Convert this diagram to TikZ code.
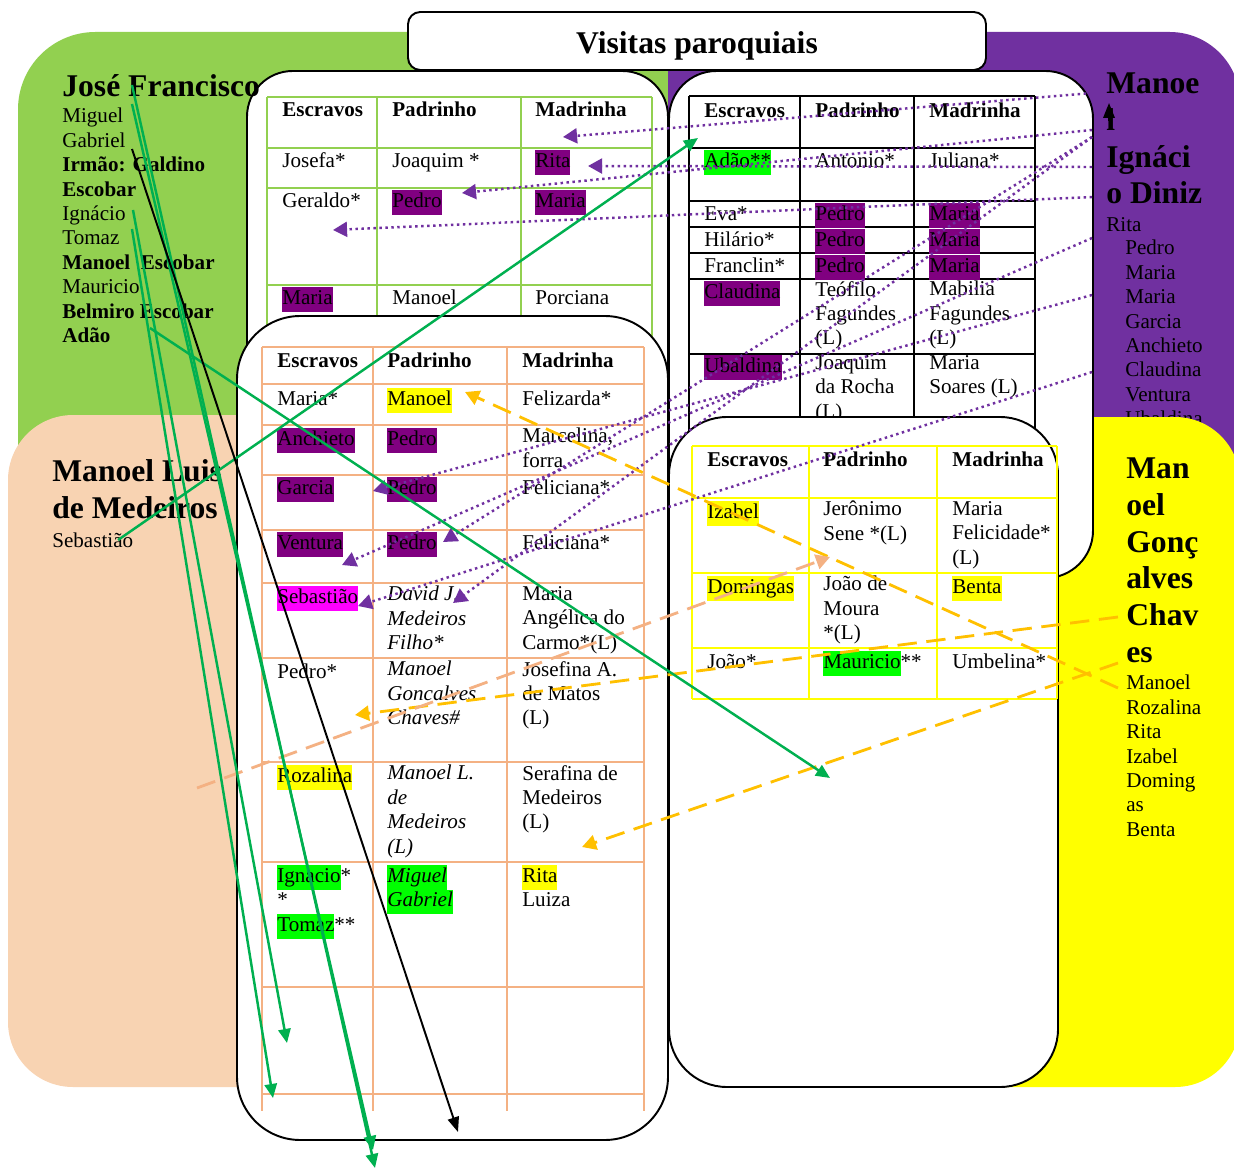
\documentclass[tikz,border=0pt]{standalone}
\usepackage{fontspec}
\setmainfont{Liberation Serif}
\usetikzlibrary{arrows.meta}

\definecolor{areagreen}{HTML}{92D050}
\definecolor{areapurple}{HTML}{7030A0}
\definecolor{areapeach}{RGB}{248,211,178}
\definecolor{areayellow}{HTML}{FFFF00}
\definecolor{peachline}{HTML}{F4B183}
\definecolor{hlpurple}{HTML}{800080}
\definecolor{hlgreen}{HTML}{00FF00}
\definecolor{hlyellow}{HTML}{FFFF00}
\definecolor{hlmagenta}{HTML}{FF00FF}
\definecolor{arrgreen}{HTML}{00B050}
\definecolor{arrorange}{HTML}{FFC000}

\newcommand{\hbg}[2]{{\setlength{\fboxsep}{0pt}\colorbox{#1}{\strut #2}}}

\def\s{0.02}

\tikzset{
  cell/.style={anchor=north west, yshift=9.73pt, inner sep=0pt, align=left,
    execute at begin node=\strut, font=\fontsize{12}{13.9}\selectfont},
  cellhead/.style={cell, font=\fontsize{12}{13.9}\selectfont\bfseries},
  cellit/.style={cell, font=\fontsize{12}{13.9}\selectfont\itshape},
  bigname/.style={anchor=north west, yshift=14.7pt, inner sep=0pt, align=left,
    execute at begin node=\strut, font=\fontsize{18}{21}\selectfont\bfseries},
  whitebox/.style={draw=black, line width=1.1pt, fill=white, rounded corners=#1},
  tabA/.style={draw=areagreen, line width=1.2pt},
  tabB/.style={draw=black, line width=1.2pt},
  tabC/.style={draw=peachline, line width=1.2pt},
  tabD/.style={draw=areayellow, line width=1.2pt},
  greenlink/.style={draw=arrgreen, line width=1.4pt, -{Triangle[length=8pt,width=7pt]}},
  blacklink/.style={draw=black, line width=1.1pt, -{Triangle[length=8.5pt,width=6.5pt]}},
  purplelink/.style={draw=areapurple, line width=1.4pt, dash pattern=on 1.4pt off 2pt,
    -{Triangle[length=8pt,width=8.5pt]}},
  orangelink/.style={draw=arrorange, line width=1.6pt, dash pattern=on 11pt off 5.5pt,
    -{Triangle[length=8pt,width=8.5pt]}},
  peachlink/.style={draw=peachline, line width=1.6pt, dash pattern=on 11pt off 5.5pt,
    -{Triangle[length=8pt,width=8.5pt]}}
}

\begin{document}
\begin{tikzpicture}[x=\s cm, y=-\s cm]

\useasboundingbox (0,0) rectangle (1234,1169);

\fill[areagreen, rounded corners=44pt] (18,32) rectangle (668,600);
\fill[areagreen] (400,32) rectangle (668,600);
\fill[areapurple, rounded corners=40pt] (668,32) rectangle (1240,600);
\fill[areapurple] (668,32) rectangle (900,600);

\node[bigname] (diniz) at (1106,98) {Manoe\\l\\Ignáci\\o Diniz};
\node[cell] (dinizrita) at (1106,231) {Rita};
\node[cell] (dinizlist) at (1125,257) {Pedro\\Maria\\Maria\\Garcia\\Anchieto\\Claudina\\Ventura\\Ubaldina};

\fill[areapeach, rounded corners=37pt] (8,415) rectangle (400,1087);
\fill[areayellow, rounded corners=37pt] (668,417) rectangle (1240,1087);

\draw[whitebox=26pt] (247,71) rectangle (668,700);
\foreach \y in {97,148,188,285,400} \draw[tabA] (267,\y) -- (652,\y);
\foreach \x in {267,377,521,652} \draw[tabA] (\x,97) -- (\x,400);
\node[cellhead] (a11) at (282,116) {Escravos};
\node[cellhead] (a12) at (392,116) {Padrinho};
\node[cellhead] (a13) at (535,116) {Madrinha};
\node[cell] (a21) at (282,167) {Josefa*};
\node[cell] (a22) at (392,167) {Joaquim *};
\node[cell] (a23) at (535,167) {\hbg{hlpurple}{Rita}};
\node[cell] (a31) at (282,207) {Geraldo*};
\node[cell] (a32) at (392,207) {\hbg{hlpurple}{Pedro}};
\node[cell] (a33) at (535,207) {\hbg{hlpurple}{Maria}};
\node[cell] (a41) at (282,304) {\hbg{hlpurple}{Maria}};
\node[cell] (a42) at (392,304) {Manoel};
\node[cell] (a43) at (535,304) {Porciana};

\draw[whitebox=27pt] (669,71) rectangle (1093,578);
\foreach \y in {96,148,201,227,253,279,354,440} \draw[tabB] (689,\y) -- (1035,\y);
\foreach \x in {689,800,914,1035} \draw[tabB] (\x,96) -- (\x,440);
\node[cellhead] (b11) at (704,117) {Escravos};
\node[cellhead] (b12) at (815,117) {Padrinho};
\node[cellhead] (b13) at (929,117) {Madrinha};
\node[cell] (b21) at (704,167) {\hbg{hlgreen}{Adão**}};
\node[cell] (b22) at (815,167) {Antonio*};
\node[cell] (b23) at (929,167) {Juliana*};
\node[cell] (b31) at (704,220) {Eva*};
\node[cell] (b32) at (815,220) {\hbg{hlpurple}{Pedro}};
\node[cell] (b33) at (929,220) {\hbg{hlpurple}{Maria}};
\node[cell] (b41) at (704,246) {Hilário*};
\node[cell] (b42) at (815,246) {\hbg{hlpurple}{Pedro}};
\node[cell] (b43) at (929,246) {\hbg{hlpurple}{Maria}};
\node[cell] (b51) at (704,272) {Franclin*};
\node[cell] (b52) at (815,272) {\hbg{hlpurple}{Pedro}};
\node[cell] (b53) at (929,272) {\hbg{hlpurple}{Maria}};
\node[cell] (b61) at (704,298) {\hbg{hlpurple}{Claudina}};
\node[cell] (b62) at (815,298) {Teófilo\\Fagundes\\(L)};
\node[cell] (b63) at (929,298) {Mabilia\\Fagundes\\(L)};
\node[cell] (b71) at (704,372) {\hbg{hlpurple}{Ubaldina}};
\node[cell] (b72) at (815,372) {Joaquim\\da Rocha\\(L)};
\node[cell] (b73) at (929,372) {Maria\\Soares (L)};

\draw[whitebox=36pt] (237,316) rectangle (668,1140);
\foreach \y in {347,384,425,475,530,583,658,762,862,987,1094} \draw[tabC] (262,\y) -- (644,\y);
\foreach \x in {262,373,507,644} \draw[tabC] (\x,347) -- (\x,1111);
\node[cellhead] (c11) at (277,367) {Escravos};
\node[cellhead] (c12) at (387,367) {Padrinho};
\node[cellhead] (c13) at (522,367) {Madrinha};
\node[cell] (c21) at (277,405) {Maria*};
\node[cell] (c22) at (387,405) {\hbg{hlyellow}{Manoel}};
\node[cell] (c23) at (522,405) {Felizarda*};
\node[cell] (c31) at (277,445) {\hbg{hlpurple}{Anchieto}};
\node[cell] (c32) at (387,445) {\hbg{hlpurple}{Pedro}};
\node[cell] (c33) at (522,445) {Marcelina,\\forra};
\node[cell] (c41) at (277,494) {\hbg{hlpurple}{Garcia}};
\node[cell] (c42) at (387,494) {\hbg{hlpurple}{Pedro}};
\node[cell] (c43) at (522,494) {Feliciana*};
\node[cell] (c51) at (277,549) {\hbg{hlpurple}{Ventura}};
\node[cell] (c52) at (387,549) {\hbg{hlpurple}{Pedro}};
\node[cell] (c53) at (522,549) {Feliciana*};
\node[cell] (c61) at (277,603) {\hbg{hlmagenta}{Sebastião}};
\node[cellit] (c62) at (387,603) {David J.\\Medeiros\\Filho*};
\node[cell] (c63) at (522,603) {Maria\\Angélica do\\Carmo*(L)};
\node[cell] (c71) at (277,678) {Pedro*};
\node[cellit] (c72) at (387,678) {Manoel\\Goncalves\\Chaves\#};
\node[cell] (c73) at (522,678) {Josefina A.\\de Matos\\(L)};
\node[cell] (c81) at (277,782) {\hbg{hlyellow}{Rozalina}};
\node[cellit] (c82) at (387,782) {Manoel L.\\de\\Medeiros\\(L)};
\node[cell] (c83) at (522,782) {Serafina de\\Medeiros\\(L)};
\node[cell] (c91) at (277,882) {\hbg{hlgreen}{Ignacio}*\\*\\\hbg{hlgreen}{Tomaz}**};
\node[cellit] (c92) at (387,882) {\hbg{hlgreen}{Miguel}\\\hbg{hlgreen}{Gabriel}};
\node[cell] (c93) at (522,882) {\hbg{hlyellow}{Rita}\\Luiza};

\draw[whitebox=33pt] (669,417) rectangle (1058,1087);
\foreach \y in {446,498,573,648,699} \draw[tabD] (692,\y) -- (1057,\y);
\foreach \x in {692,809,937,1057} \draw[tabD] (\x,446) -- (\x,699);
\node[cellhead] (d11) at (707,466) {Escravos};
\node[cellhead] (d12) at (823,466) {Padrinho};
\node[cellhead] (d13) at (952,466) {Madrinha};
\node[cell] (d21) at (707,518) {\hbg{hlyellow}{Izabel}};
\node[cell] (d22) at (823,518) {Jerônimo\\Sene *(L)};
\node[cell] (d23) at (952,518) {Maria\\Felicidade*\\(L)};
\node[cell] (d31) at (707,593) {\hbg{hlyellow}{Domingas}};
\node[cell] (d32) at (823,593) {João de\\Moura\\*(L)};
\node[cell] (d33) at (952,593) {\hbg{hlyellow}{Benta}};
\node[cell] (d41) at (707,668) {João*};
\node[cell] (d42) at (823,668) {\hbg{hlgreen}{Mauricio}**};
\node[cell] (d43) at (952,668) {Umbelina*};

\draw[whitebox=7pt] (408,12) rectangle (986,70);
\node[anchor=base, inner sep=0pt, font=\fontsize{18}{21}\selectfont\bfseries] (title) at (697,54) {Visitas paroquiais};

\node[bigname] (jose) at (62,96) {José Francisco};
\node[cell] (joselist) at (62,125) {Miguel\\Gabriel\\\textbf{Irmão: Galdino}\\\textbf{Escobar}\\Ignácio\\Tomaz\\\textbf{Manoel\ \ Escobar}\\Mauricio\\\textbf{Belmiro Escobar}\\\textbf{Adão}};

\node[bigname] (medeiros) at (52,485) {Manoel Luis\\de Medeiros};
\node[cell] (medeiroslist) at (52,547) {Sebastião};

\node[bigname] (chaves) at (1126,483) {Man\\oel\\Gonç\\alves\\Chav\\es};
\node[cell] (chaveslist) at (1126,692) {Manoel\\Rozalina\\Rita\\Izabel\\Doming\\as\\Benta};

\coordinate (lbase) at (1109,121);
\coordinate (ltip) at (1109,103);
\draw[blacklink] (lbase) -- (ltip);

\coordinate (pA) at (1092,93);
\coordinate (pB) at (1092,130);
\coordinate (pC) at (1092,167);
\coordinate (pD) at (1092,197);
\coordinate (pE) at (1092,137);
\coordinate (pF) at (1092,238);
\coordinate (pG) at (1092,295);
\coordinate (pH) at (1092,372);
\coordinate (tMad) at (563,137);
\coordinate (tPedA) at (462,193);
\coordinate (tRitaA) at (588,166);
\coordinate (tGer) at (333,230);
\coordinate (tDavid) at (453,603);
\coordinate (tPedV) at (443,542);
\coordinate (tVent) at (342,565);
\coordinate (tGarc) at (373,491);
\coordinate (tSeb) at (358,606);
\draw[purplelink] (pA) -- (tMad);
\draw[purplelink] (pB) -- (tPedA);
\draw[purplelink] (pC) -- (tRitaA);
\draw[purplelink] (pD) -- (tGer);
\draw[purplelink] (pE) -- (tDavid);
\draw[purplelink] (pE) -- (tPedV);
\draw[purplelink] (pF) -- (tVent);
\draw[purplelink] (pG) -- (tGarc);
\draw[purplelink] (pH) -- (tSeb);

\coordinate (oMan) at (1118,688);
\coordinate (oChav) at (1118,617);
\coordinate (oRita) at (1118,663);
\coordinate (qRoz) at (197,788);
\coordinate (tManC) at (465,392);
\coordinate (tChav) at (355,715);
\coordinate (tRitaC) at (582,847);
\coordinate (tDom) at (830,557);
\draw[orangelink] (oMan) -- (tManC);
\draw[orangelink] (oChav) -- (tChav);
\draw[orangelink] (oRita) -- (tRitaC);
\draw[peachlink] (qRoz) -- (tDom);

\coordinate (gJose1) at (132,85);
\coordinate (gJose2) at (132,104);
\coordinate (gIgn) at (133,210);
\coordinate (gTom) at (132,229);
\coordinate (gAdao) at (150,328);
\coordinate (gSeb) at (118,540);
\coordinate (kGab) at (132,149);
\coordinate (eJose1) at (375,1168);
\coordinate (eJose2) at (373,1150);
\coordinate (eIgn) at (287,1043);
\coordinate (eTom) at (273,1098);
\coordinate (eAdao) at (830,778);
\coordinate (eSeb) at (698,138);
\coordinate (eGab) at (458,1132);
\draw[greenlink] (gJose1) -- (eJose1);
\draw[greenlink] (gJose2) -- (eJose2);
\draw[greenlink] (gIgn) -- (eIgn);
\draw[greenlink] (gTom) -- (eTom);
\draw[greenlink] (gAdao) -- (eAdao);
\draw[greenlink] (gSeb) -- (eSeb);
\draw[blacklink] (kGab) -- (eGab);

\end{tikzpicture}
\end{document}
